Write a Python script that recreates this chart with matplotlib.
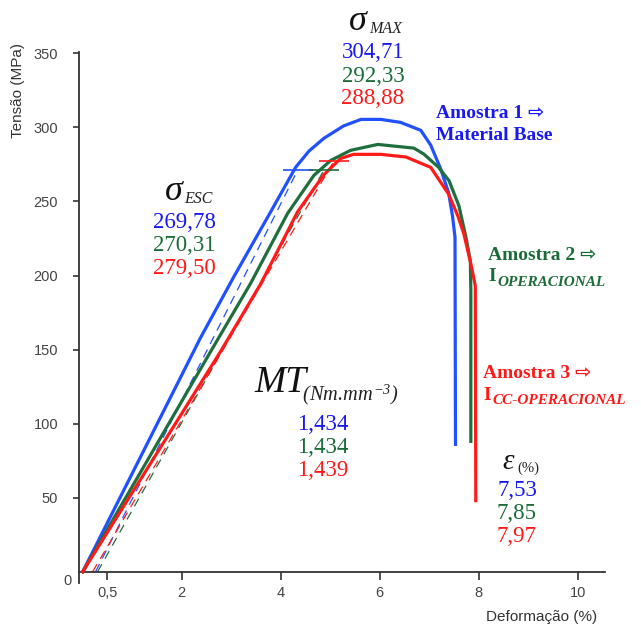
import matplotlib
matplotlib.use("Agg")
from matplotlib import pyplot as plt

# curves: strain (%) and stress (MPa)
strain_1 = [0, 2.38, 3.05, 3.79, 4.30, 4.57, 4.87, 5.27, 5.62, 6.02, 6.42, 6.83, 7.03, 7.23, 7.39, 7.47, 7.52, 7.53]
stress_1 = [0, 158, 199, 242.6, 273, 284, 292.6, 301, 305.4, 305.4, 303.4, 298, 288, 272, 256, 240, 226, 86]

strain_2 = [0, 2.59, 3.39, 4.14, 4.67, 5.01, 5.41, 5.96, 6.69, 6.89, 7.19, 7.40, 7.60, 7.74, 7.83, 7.84, 7.84]
stress_2 = [0, 149, 194.6, 242, 267.6, 277.7, 284.5, 288.5, 286, 282, 273, 264, 247, 226, 210, 190, 88]

strain_3 = [0, 2.79, 3.6, 4.34, 4.87, 5.21, 5.47, 6.02, 6.53, 7.03, 7.23, 7.39, 7.58, 7.70, 7.86, 7.93, 7.94]
stress_3 = [0, 149, 194.6, 243, 268, 279, 281.8, 281.8, 280, 273, 263, 255, 240, 228, 205, 193, 48]

# offset (yield) lines: start strain, yield point
offset_start = [0.26, 0.30, 0.20]
yield_strain = [4.34, 4.87, 5.07]
yield_stress = [271, 271, 277]

sigma_max = ["304,71", "292,33", "288,88"]
sigma_esc = ["269,78", "270,31", "279,50"]
mt_vals = ["1,434", "1,434", "1,439"]
eps_vals = ["7,53", "7,85", "7,97"]

xticks = [0.5, 2, 4, 6, 8, 10]
xticklabels = ["0,5", "2", "4", "6", "8", "10"]
yticks = [50, 100, 150, 200, 250, 300, 350]

line_colors = ["#2050ff", "#1f6e3e", "#ff1a1a"]
text_colors = ["#1818f0", "#1b6b38", "#ff1818"]

W, H = 641, 626
fig = plt.figure(figsize=(W / 100, H / 100), dpi=100)
ax = fig.add_axes([79 / W, (H - 583) / H, (605 - 79) / W, (583 - 52) / H])

curves = [(strain_1, stress_1), (strain_2, stress_2), (strain_3, stress_3)]
for i in range(3):
    ax.plot([offset_start[i], yield_strain[i]], [0, yield_stress[i]], color=line_colors[i],
            lw=0.9, linestyle=(0, (7, 5)), zorder=2)
for i, (sx, sy) in enumerate(curves):
    ax.plot(sx, sy, color=line_colors[i], lw=2.3, zorder=3, solid_joinstyle="round")
for i in range(3):
    ax.plot(yield_strain[i], yield_stress[i], marker="_", markersize=22, mew=1.2,
            color=line_colors[i], zorder=4)

ax.set_xlim(-0.075, 10.55)
ax.set_ylim(-7.6, 350.9)
ax.spines["top"].set_visible(False)
ax.spines["right"].set_visible(False)
ax.spines["bottom"].set_position(("data", 0))
for s in ["left", "bottom"]:
    ax.spines[s].set_linewidth(1.3)
    ax.spines[s].set_color("#333333")
ax.set_xticks(xticks)
ax.set_xticklabels(xticklabels)
ax.set_yticks(yticks)
ax.tick_params(axis="x", direction="out", length=6, width=1.2, pad=4, labelsize=10.5,
               labelcolor="#444444", color="#333333")
ax.tick_params(axis="y", direction="out", length=4, width=1.2, pad=11, labelsize=10.5,
               labelcolor="#444444", color="#333333")
for lab in ax.get_xticklabels() + ax.get_yticklabels():
    lab.set_family("Liberation Sans")


def px(x, y):
    return x / W, 1 - y / H


serif = "Liberation Serif"

fig.text(*px(68, 581), "0", ha="center", va="center", fontsize=10.5,
         color="#444444", family="Liberation Sans")
fig.text(*px(18, 90), "Tensão (MPa)", rotation=90, ha="center", va="center",
         fontsize=11, color="#333333", family="Liberation Sans")
fig.text(*px(597, 617), "Deformação (%)", ha="right", va="center",
         fontsize=11, color="#333333", family="Liberation Sans")

# sigma max
fig.text(*px(358, 22), "σ", ha="center", va="center", fontsize=26, style="italic",
         family=serif, color="#111111")
fig.text(*px(369, 29), "MAX", ha="left", va="center", fontsize=11.5, style="italic",
         family=serif, color="#222222")
for i, v in enumerate(sigma_max):
    fig.text(*px(373, 53 + 23 * i), v, ha="center", va="center", fontsize=16.5,
             family=serif, color=text_colors[i])

# sigma esc
fig.text(*px(174, 192), "σ", ha="center", va="center", fontsize=26, style="italic",
         family=serif, color="#111111")
fig.text(*px(184, 199), "ESC", ha="left", va="center", fontsize=11.5, style="italic",
         family=serif, color="#222222")
for i, v in enumerate(sigma_esc):
    fig.text(*px(184, 222 + 23.5 * i), v, ha="center", va="center", fontsize=16.5,
             family=serif, color=text_colors[i])

# tenacity
plt.rcParams["mathtext.fontset"] = "custom"
plt.rcParams["mathtext.it"] = "Liberation Serif:italic"
plt.rcParams["mathtext.rm"] = "Liberation Serif:italic"
fig.text(*px(254, 383), "MT", ha="left", va="center", fontsize=27, style="italic",
         family=serif, color="#111111")
fig.text(*px(302, 394), r"$_{(Nm.\!mm^{-3})}$", ha="left", va="center", fontsize=21,
         color="#222222")
for i, v in enumerate(mt_vals):
    fig.text(*px(323, 425 + 22.5 * i), v, ha="center", va="center", fontsize=16.5,
             family=serif, color=text_colors[i])

# elongation
fig.text(*px(508, 462), "ε", ha="center", va="center", fontsize=21, style="italic",
         family=serif, color="#111111")
fig.text(*px(517, 468), "(%)", ha="left", va="center", fontsize=10.5,
         family=serif, color="#222222")
for i, v in enumerate(eps_vals):
    fig.text(*px(517, 490 + 23.5 * i), v, ha="center", va="center", fontsize=16.5,
             family=serif, color=text_colors[i])

# sample labels
lab_font = [serif, "DejaVu Sans"]
fig.text(*px(436, 113), "Amostra 1 ⇨", ha="left", va="center", fontsize=14,
         weight="bold", family=lab_font, color=text_colors[0])
fig.text(*px(436, 135), "Material Base", ha="left", va="center", fontsize=14,
         weight="bold", family=lab_font, color=text_colors[0])
fig.text(*px(488, 255), "Amostra 2 ⇨", ha="left", va="center", fontsize=14,
         weight="bold", family=lab_font, color=text_colors[1])
fig.text(*px(488, 277), "I", ha="left", va="center", fontsize=14,
         weight="bold", family=serif, color=text_colors[1])
fig.text(*px(497, 282), "OPERACIONAL", ha="left", va="center", fontsize=11,
         weight="bold", style="italic", family=serif, color=text_colors[1])
fig.text(*px(483, 373), "Amostra 3 ⇨", ha="left", va="center", fontsize=14,
         weight="bold", family=lab_font, color=text_colors[2])
fig.text(*px(483, 395), "I", ha="left", va="center", fontsize=14,
         weight="bold", family=serif, color=text_colors[2])
fig.text(*px(492, 400), "CC-OPERACIONAL", ha="left", va="center", fontsize=11,
         weight="bold", style="italic", family=serif, color=text_colors[2])

fig.savefig("out.png", dpi=100)
